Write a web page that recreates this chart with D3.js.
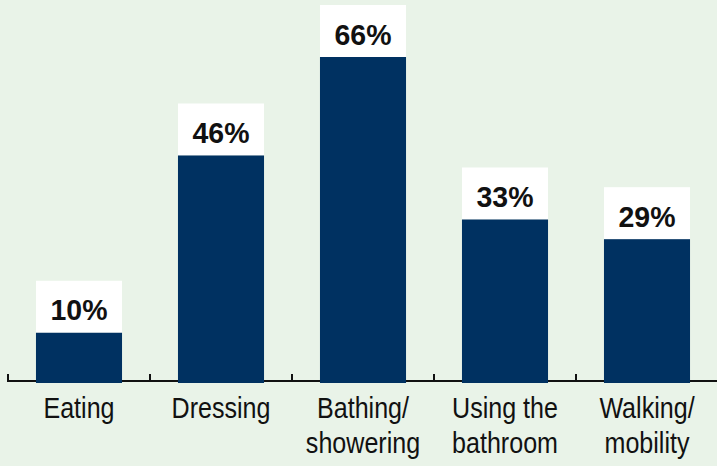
<!DOCTYPE html>
<meta charset="utf-8">
<style>
body { margin: 0; background: #e9f3e8; }
svg { display: block; }
.label { font-family: "Liberation Sans", Arial, sans-serif; fill: #111; }
.value { font-family: "Liberation Sans", Arial, sans-serif; font-weight: bold; fill: #111; }
</style>
<body>
<script src="https://d3js.org/d3.v7.min.js"></script>
<script>

var categories = ["Eating", "Dressing", "Bathing/\nshowering", "Using the\nbathroom", "Walking/\nmobility"];
var values = [10, 46, 66, 33, 29];

var width = 717,
    height = 466,
    baseline = 382;

var svg = d3.select("body").append("svg")
    .attr("width", width)
    .attr("height", height);

svg.append("rect")
    .attr("width", width)
    .attr("height", height)
    .attr("fill", "#e9f3e8");

var x = d3.scaleBand()
    .domain(categories)
    .range([8, 718])
    .paddingInner(0.394)
    .paddingOuter(0.197);

var y = d3.scaleLinear()
    .domain([0, 66])
    .range([baseline, 57]);

// axis line with ticks pointing up at the band edges
var gap = (x.step() - x.bandwidth()) / 2;
var edges = categories.map(function(c) { return x(c) - gap; });
edges.push(x(categories[categories.length - 1]) + x.bandwidth() + gap);

var axis = svg.append("g");
axis.append("line")
    .attr("x1", edges[0])
    .attr("x2", edges[edges.length - 1])
    .attr("y1", baseline - 1)
    .attr("y2", baseline - 1)
    .attr("stroke", "#111")
    .attr("stroke-width", 2);
axis.selectAll(".tick")
    .data(edges)
    .enter().append("line")
    .attr("x1", function(d) { return d; })
    .attr("x2", function(d) { return d; })
    .attr("y1", baseline - 8)
    .attr("y2", baseline)
    .attr("stroke", "#111")
    .attr("stroke-width", 2);

var data = categories.map(function(c, i) { return {cat: c, value: values[i]}; });

var bar = svg.selectAll(".bar")
    .data(data)
    .enter().append("g")
    .attr("class", "bar");

// white box behind the value label
bar.append("rect")
    .attr("x", function(d) { return x(d.cat); })
    .attr("y", function(d) { return y(d.value) - 52; })
    .attr("width", x.bandwidth())
    .attr("height", 52)
    .attr("fill", "#ffffff");

bar.append("rect")
    .attr("x", function(d) { return x(d.cat); })
    .attr("y", function(d) { return y(d.value); })
    .attr("width", x.bandwidth())
    .attr("height", function(d) { return baseline + 1 - y(d.value); })
    .attr("fill", "#003161");

bar.append("text")
    .attr("class", "value")
    .attr("text-anchor", "middle")
    .attr("font-size", 30)
    .attr("transform", function(d) {
      return "translate(" + (x(d.cat) + x.bandwidth() / 2) + "," + (y(d.value) - 12.5) + ") scale(0.95,1)";
    })
    .text(function(d) { return d.value + "%"; });

// category labels, one or two lines
svg.selectAll(".label")
    .data(categories)
    .enter().append("text")
    .attr("class", "label")
    .attr("text-anchor", "middle")
    .attr("font-size", 29)
    .attr("transform", function(d) {
      return "translate(" + (x(d) + x.bandwidth() / 2) + ",418) scale(0.865,1)";
    })
    .each(function(d) {
      var lines = d.split("\n");
      var t = d3.select(this);
      lines.forEach(function(l, i) {
        t.append("tspan")
          .attr("x", 0)
          .attr("y", i * 35)
          .text(l);
      });
    });

</script>
